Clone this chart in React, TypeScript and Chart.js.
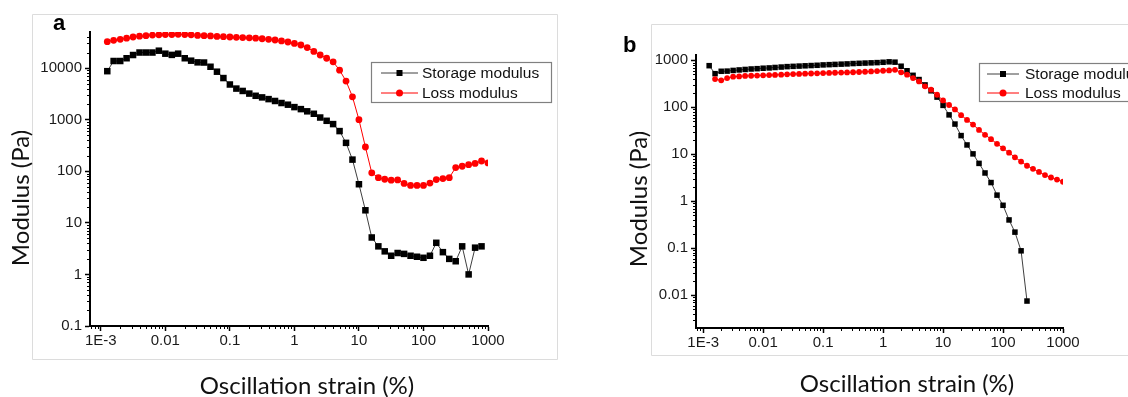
import React, { useEffect, useRef } from 'react';
import { Chart, registerables } from 'chart.js';

Chart.register(...registerables);

// ---------- data ----------
const strain = [
  0.00126, 0.00158, 0.002, 0.00251, 0.00316, 0.00398, 0.00501, 0.00631, 0.00794, 0.01,
  0.0126, 0.0158, 0.02, 0.0251, 0.0316, 0.0398, 0.0501, 0.0631, 0.0794, 0.1,
  0.126, 0.158, 0.2, 0.251, 0.316, 0.398, 0.501, 0.631, 0.794, 1,
  1.26, 1.58, 2, 2.51, 3.16, 3.98, 5.01, 6.31, 7.94, 10,
  12.6, 15.8, 20, 25.1, 31.6, 39.8, 50.1, 63.1, 79.4, 100,
  126, 158, 200, 251, 316, 398, 501, 631, 794, 1000,
];

// panel a
const aStorage = [
  8700, 13700, 13700, 15500, 17900, 20000, 20000, 20000, 21700, 19000,
  18000, 19000, 15500, 13900, 12900, 12800, 10600, 8500, 6400, 4800,
  4000, 3600, 3200, 2900, 2700, 2500, 2300, 2100, 1950, 1750,
  1600, 1450, 1300, 1100, 950, 820, 600, 355, 168, 56,
  17.5, 5.2, 3.5, 2.8, 2.3, 2.6, 2.5, 2.3, 2.2, 2.1,
  2.3, 4.1, 2.7, 2.0, 1.8, 3.5, 1.0, 3.3, 3.5,
];
const aLoss = [
  32500, 34500, 36000, 38000, 40000, 41500, 42500, 43500, 44000, 44500,
  44500, 45000, 44500, 44000, 43000, 42500, 42000, 41000, 40500, 40000,
  39500, 39000, 38500, 38000, 37000, 36000, 35000, 33500, 32000, 30000,
  28000, 25000, 21000, 17900, 15500, 13200, 9100, 5600, 2770, 1000,
  295, 93, 75, 70, 67, 68, 58, 53, 53, 53,
  59, 69, 72, 75, 118, 125, 134, 142, 158, 145,
];

// panel b (loss modulus starts at the second strain value)
const bStorage = [
  770, 520, 585, 590, 610, 625, 640, 655, 665, 680,
  690, 705, 720, 735, 745, 755, 765, 775, 785, 800,
  810, 820, 830, 840, 855, 865, 875, 885, 895, 910,
  930, 915, 750, 600, 480, 390, 300, 225, 165, 110,
  69, 44, 25, 15.8, 10.2, 6.4, 4.0, 2.5, 1.35, 0.82,
  0.40, 0.22, 0.088, 0.0075,
];
const bLoss = [
  400, 375, 420, 450, 455, 465, 470, 475, 480,
  485, 490, 495, 505, 510, 515, 520, 525, 530, 535,
  540, 545, 548, 552, 558, 565, 572, 580, 590, 600,
  610, 630, 555, 495, 420, 355, 280, 237, 185, 140,
  112, 90, 68, 54, 43, 33, 26, 21, 16.7, 13.4,
  10.8, 8.6, 7.0, 5.7, 4.9, 4.2, 3.6, 3.2, 2.9, 2.6,
];

const xTickValues = [0.001, 0.01, 0.1, 1, 10, 100, 1000];
const xTickLabels = ['1E-3', '0.01', '0.1', '1', '10', '100', '1000'];
const aYTickValues = [0.1, 1, 10, 100, 1000, 10000];
const aYTickLabels = ['0.1', '1', '10', '100', '1000', '10000'];
const bYTickValues = [0.01, 0.1, 1, 10, 100, 1000];
const bYTickLabels = ['0.01', '0.1', '1', '10', '100', '1000'];

const seriesNames = ['Storage modulus', 'Loss modulus'];
const yTitleText = 'Modulus (Pa)';
const xTitleText = 'Oscillation strain (%)';

// ---------- helpers ----------
const toPoints = (vals: number[], offset: number) =>
  vals.map((v, i) => ({ x: strain[i + offset], y: v }));

const labelFor = (v: number, values: number[], labels: string[]) => {
  const i = values.findIndex((t) => Math.abs(Math.log10(t) - Math.log10(v)) < 1e-6);
  return i >= 0 ? labels[i] : '';
};

const TICK_FONT = '"Liberation Sans", Arial, sans-serif';
const TITLE_FONT = 'Lato, "Open Sans", sans-serif';

type PanelCfg = {
  canvasLeft: number;
  canvasWidth: number;
  area: { left: number; top: number; right: number; bottom: number };
  xMin: number; xMax: number; yMin: number; yMax: number;
  yTicks: number[]; yLabels: string[];
  storage: number[]; storageOffset: number;
  loss: number[]; lossOffset: number;
  rectR: number; circR: number;
  frame: { l: number; t: number; r: number; b: number; top: boolean };
  legend: { l: number; t: number; r: number; b: number; x0: number; x1: number; tx: number; r1: number; r2: number };
  letter: { text: string; x: number; y: number };
  yTitle: { x: number; y: number };
  xTitle: { x: number; y: number };
};

const H = 397;

const overlayPlugin = {
  id: 'overlay',
  beforeDraw(chart: any, _a: any, opts: any) {
    const p: PanelCfg = opts.panel;
    const ctx = chart.ctx;
    ctx.save();
    ctx.fillStyle = '#fff';
    ctx.fillRect(0, 0, chart.width, chart.height);
    ctx.strokeStyle = '#dcdcdc';
    ctx.lineWidth = 1;
    const f = p.frame;
    ctx.beginPath();
    ctx.moveTo(f.l + 0.5, f.t + 0.5);
    ctx.lineTo(f.l + 0.5, f.b + 0.5);
    ctx.lineTo(f.r + 0.5, f.b + 0.5);
    ctx.lineTo(f.r + 0.5, f.t + 0.5);
    if (f.top) ctx.lineTo(f.l + 0.5, f.t + 0.5);
    ctx.stroke();
    ctx.restore();
  },
  afterDraw(chart: any, _a: any, opts: any) {
    const p: PanelCfg = opts.panel;
    const ctx = chart.ctx;
    const xs = chart.scales.x;
    const ys = chart.scales.y;
    ctx.save();
    // minor ticks
    ctx.strokeStyle = '#000';
    ctx.lineWidth = 1;
    for (let e = -4; e <= 4; e++) {
      for (let m = 2; m <= 9; m++) {
        const v = m * Math.pow(10, e);
        if (v > xs.min && v < xs.max) {
          const px = Math.round(xs.getPixelForValue(v)) + 0.5;
          ctx.beginPath();
          ctx.moveTo(px, xs.top);
          ctx.lineTo(px, xs.top + 3);
          ctx.stroke();
        }
        if (v > ys.min && v < ys.max) {
          const py = Math.round(ys.getPixelForValue(v)) + 0.5;
          ctx.beginPath();
          ctx.moveTo(ys.right, py);
          ctx.lineTo(ys.right - 3, py);
          ctx.stroke();
        }
      }
    }
    // legend
    const L = p.legend;
    ctx.strokeStyle = '#808080';
    ctx.lineWidth = 1.2;
    ctx.strokeRect(L.l + 0.5, L.t + 0.5, L.r - L.l, L.b - L.t);
    const mid = (L.x0 + L.x1) / 2;
    ctx.lineWidth = 1;
    ctx.strokeStyle = '#404040';
    ctx.beginPath(); ctx.moveTo(L.x0, L.r1); ctx.lineTo(L.x1, L.r1); ctx.stroke();
    ctx.fillStyle = '#000';
    ctx.fillRect(mid - 3, L.r1 - 3, 6, 6);
    ctx.strokeStyle = '#ff0000';
    ctx.beginPath(); ctx.moveTo(L.x0, L.r2); ctx.lineTo(L.x1, L.r2); ctx.stroke();
    ctx.fillStyle = '#ff0000';
    ctx.beginPath(); ctx.arc(mid, L.r2, 3.5, 0, Math.PI * 2); ctx.fill();
    ctx.fillStyle = '#111';
    ctx.font = `15.5px ${TICK_FONT}`;
    ctx.textAlign = 'left';
    ctx.textBaseline = 'middle';
    ctx.fillText(seriesNames[0], L.tx, L.r1 + 0.5);
    ctx.fillText(seriesNames[1], L.tx, L.r2 + 0.5);
    // panel letter
    ctx.fillStyle = '#000';
    ctx.font = `bold 22px ${TICK_FONT}`;
    ctx.textBaseline = 'alphabetic';
    ctx.fillText(p.letter.text, p.letter.x, p.letter.y);
    // axis titles
    ctx.fillStyle = '#111';
    ctx.font = `24px ${TITLE_FONT}`;
    ctx.textAlign = 'center';
    ctx.fillText(xTitleText, p.xTitle.x, p.xTitle.y);
    ctx.save();
    ctx.translate(p.yTitle.x, p.yTitle.y);
    ctx.rotate(-Math.PI / 2);
    ctx.textBaseline = 'middle';
    ctx.fillText(yTitleText, 0, 0);
    ctx.restore();
    ctx.restore();
  },
};

const panels: PanelCfg[] = [
  {
    canvasLeft: 0,
    canvasWidth: 560,
    area: { left: 90, top: 32, right: 488, bottom: 326 },
    xMin: 0.00068, xMax: 1000, yMin: 0.1, yMax: 50000,
    yTicks: aYTickValues, yLabels: aYTickLabels,
    storage: aStorage, storageOffset: 0,
    loss: aLoss, lossOffset: 0,
    rectR: 4.6, circR: 3.4,
    frame: { l: 32, t: 14, r: 557, b: 359, top: true },
    legend: { l: 371, t: 62, r: 551, b: 102, x0: 381, x1: 418, tx: 422, r1: 73, r2: 93 },
    letter: { text: 'a', x: 53, y: 29.5 },
    yTitle: { x: 21, y: 198 },
    xTitle: { x: 307, y: 394 },
  },
  {
    canvasLeft: 560,
    canvasWidth: 568,
    area: { left: 136, top: 55, right: 503, bottom: 328 },
    xMin: 0.00076, xMax: 1000, yMin: 0.002, yMax: 1300,
    yTicks: bYTickValues, yLabels: bYTickLabels,
    storage: bStorage, storageOffset: 0,
    loss: bLoss, lossOffset: 1,
    rectR: 3.9, circR: 2.9,
    frame: { l: 91, t: 24, r: 700, b: 355, top: true },
    legend: { l: 419, t: 63, r: 700, b: 101, x0: 427, x1: 459, tx: 465, r1: 74, r2: 93 },
    letter: { text: 'b', x: 63, y: 52 },
    yTitle: { x: 79, y: 199 },
    xTitle: { x: 347, y: 392 },
  },
];

function Panel({ cfg }: { cfg: PanelCfg }) {
  const ref = useRef<HTMLCanvasElement | null>(null);
  useEffect(() => {
    if (!ref.current) return;
    const a = cfg.area;
    const chart = new Chart(ref.current, {
      type: 'scatter',
      data: {
        datasets: [
          {
            label: seriesNames[0],
            data: toPoints(cfg.storage, cfg.storageOffset),
            showLine: true,
            borderColor: '#404040',
            borderWidth: 1,
            pointStyle: 'rect',
            pointRadius: cfg.rectR,
            pointBackgroundColor: '#000',
            pointBorderColor: '#000',
            pointBorderWidth: 0,
            order: 1,
          },
          {
            label: seriesNames[1],
            data: toPoints(cfg.loss, cfg.lossOffset),
            showLine: true,
            borderColor: '#ff0000',
            borderWidth: 1,
            pointStyle: 'circle',
            pointRadius: cfg.circR,
            pointBackgroundColor: '#ff0000',
            pointBorderColor: '#ff0000',
            pointBorderWidth: 0,
            order: 0,
          },
        ],
      } as any,
      options: {
        responsive: false,
        animation: false,
        devicePixelRatio: 1,
        layout: {
          autoPadding: false,
          padding: { left: 0, top: a.top, right: cfg.canvasWidth - a.right, bottom: 0 },
        },
        plugins: {
          legend: { display: false },
          tooltip: { enabled: false },
          overlay: { panel: cfg },
        } as any,
        scales: {
          x: {
            type: 'logarithmic',
            position: 'bottom',
            min: cfg.xMin,
            max: cfg.xMax,
            afterBuildTicks: (s: any) => {
              s.ticks = xTickValues.map((v) => ({ value: v }));
            },
            afterFit: (s: any) => {
              s.height = H - a.bottom;
            },
            ticks: {
              autoSkip: false,
              maxRotation: 0,
              padding: 1,
              color: '#1a1a1a',
              font: { family: TICK_FONT, size: 15 },
              callback: (v: any) => labelFor(Number(v), xTickValues, xTickLabels),
            },
            grid: {
              display: true,
              drawOnChartArea: false,
              drawTicks: true,
              tickLength: 5,
              tickWidth: 1.5,
              tickColor: '#000',
            },
            border: { display: true, color: '#000', width: 2 },
          },
          y: {
            type: 'logarithmic',
            position: 'left',
            min: cfg.yMin,
            max: cfg.yMax,
            afterBuildTicks: (s: any) => {
              s.ticks = cfg.yTicks.map((v) => ({ value: v }));
            },
            afterFit: (s: any) => {
              s.width = a.left;
            },
            ticks: {
              autoSkip: false,
              padding: 3,
              color: '#1a1a1a',
              font: { family: TICK_FONT, size: 15 },
              callback: (v: any) => labelFor(Number(v), cfg.yTicks, cfg.yLabels),
            },
            grid: {
              display: true,
              drawOnChartArea: false,
              drawTicks: true,
              tickLength: 5,
              tickWidth: 1.5,
              tickColor: '#000',
            },
            border: { display: true, color: '#000', width: 2 },
          },
        } as any,
      },
      plugins: [overlayPlugin as any],
    });
    return () => chart.destroy();
  }, [cfg]);
  return (
    <canvas
      ref={ref}
      width={cfg.canvasWidth}
      height={H}
      style={{ position: 'absolute', left: cfg.canvasLeft, top: 0, width: cfg.canvasWidth, height: H }}
    />
  );
}

export default function App() {
  return (
    <div style={{ position: 'absolute', left: 0, top: 0, width: 1128, height: H, background: '#fff', overflow: 'hidden' }}>
      {panels.map((p, i) => (
        <Panel key={i} cfg={p} />
      ))}
    </div>
  );
}
